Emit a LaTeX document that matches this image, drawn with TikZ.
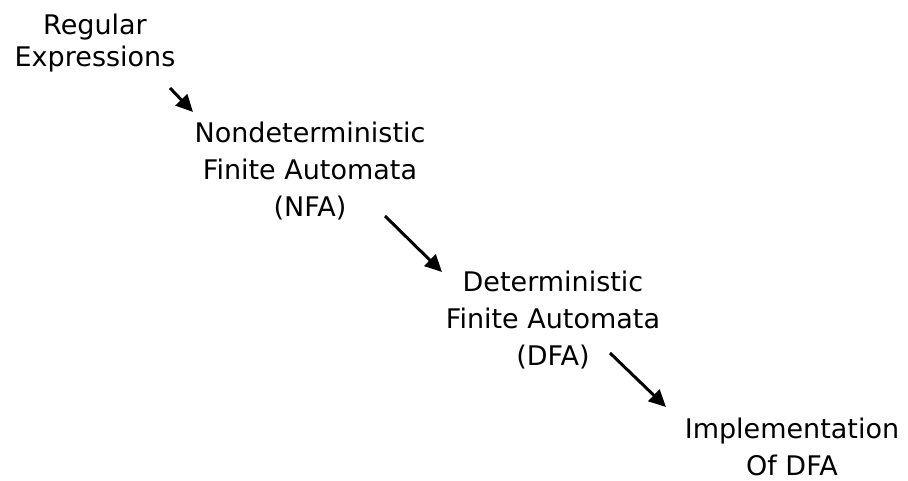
\documentclass[tikz,border=0pt]{standalone}
\usepackage{fontspec}
\setmainfont{DejaVu Sans}
\usetikzlibrary{arrows.meta}
\begin{document}
\begin{tikzpicture}[x=1pt,y=-1pt,
  stagetext/.style={align=center, inner sep=0pt, anchor=north, font=\fontsize{27}{37}\selectfont},
  flowarrow/.style={line width=3pt, -{Triangle[length=17pt,width=16pt]}}]
\useasboundingbox (0,0) rectangle (908,481);
\node[stagetext, font=\fontsize{27}{32}\selectfont] (re) at (95,14) {Regular\\Expressions};
\node[stagetext] (nfa)  at (310,122) {Nondeterministic\\Finite Automata\\(NFA)};
\node[stagetext] (dfa)  at (553,271) {Deterministic\\Finite Automata\\(DFA)};
\node[stagetext] (impl) at (792,418) {Implementation\\Of DFA};
\coordinate (a1s) at (170,88);  \coordinate (a1e) at (193,112);
\coordinate (a2s) at (385,216); \coordinate (a2e) at (442,272);
\coordinate (a3s) at (610,353); \coordinate (a3e) at (666,407);
\draw[flowarrow] (a1s) -- (a1e);
\draw[flowarrow] (a2s) -- (a2e);
\draw[flowarrow] (a3s) -- (a3e);
\end{tikzpicture}
\end{document}
